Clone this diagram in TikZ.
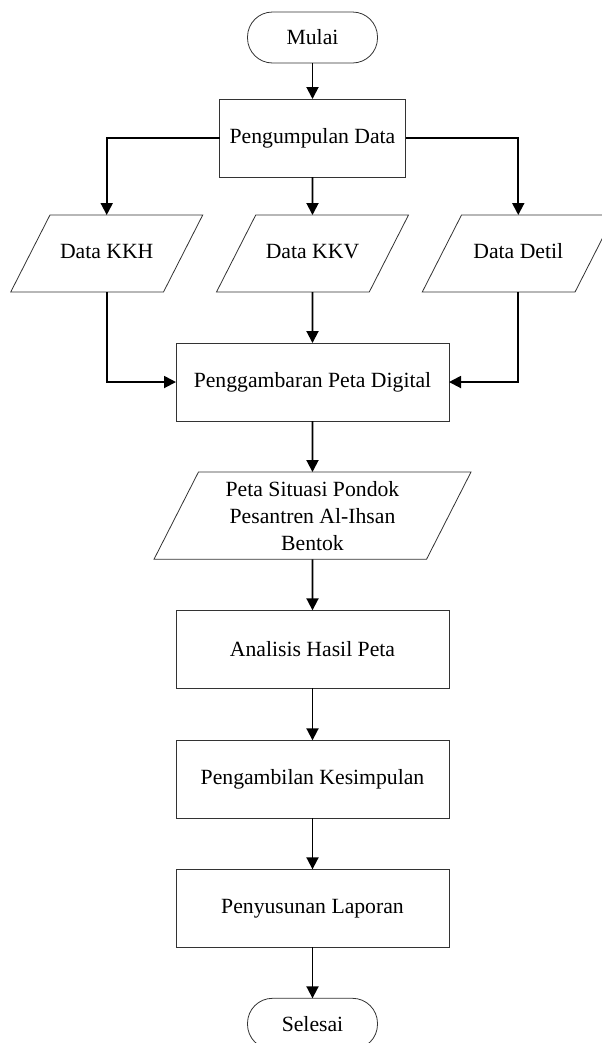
\documentclass[tikz,border=0pt]{standalone}
\usepackage{fontspec}
\setmainfont{Liberation Serif}
\usetikzlibrary{arrows.meta,positioning,shapes.geometric}

\begin{document}
\begin{tikzpicture}[x=1bp,y=1bp,node distance=51bp,
  every node/.style={align=center,font=\fontsize{21.7bp}{27bp}\selectfont,outer sep=0pt,inner sep=2bp},
  terminal/.style={draw=black!80,line width=0.8bp,rounded corners=25bp,minimum width=130bp,minimum height=51bp},
  process/.style={draw=black!80,line width=0.8bp,minimum width=273bp,minimum height=78bp},
  dataio/.style={draw=black!80,line width=0.8bp,trapezium,trapezium left angle=63,trapezium right angle=117,trapezium stretches body=true},
  datarow/.style={dataio,minimum width=192bp,text height=15bp,text depth=5bp,inner ysep=28.5bp},
  flow/.style={line width=1.9bp,-{Triangle[length=12bp,width=12bp]}}]
\useasboundingbox (0,0) rectangle (602,-1043);
\node[terminal] (mulai) at (312.5,-37.5) {Mulai};
\node[process,minimum width=186bp,below=36bp of mulai] (kumpul) {Pengumpulan Data};
\node[datarow,below=38bp of kumpul] (kkv) {Data KKV};
\node[datarow,left=53bp of kkv] (kkh) {Data KKH};
\node[datarow,right=53bp of kkv] (detil) {Data Detil};
\node[process,below=of kkv] (gambar) {Penggambaran Peta Digital};
\node[dataio,minimum width=317bp,inner ysep=9bp,below=of gambar] (peta) {Peta Situasi Pondok\\Pesantren Al-Ihsan\\Bentok};
\node[process,below=of peta] (analisis) {Analisis Hasil Peta};
\node[process,below=52bp of analisis] (simpul) {Pengambilan Kesimpulan};
\node[process,below=of simpul] (laporan) {Penyusunan Laporan};
\node[terminal,below=of laporan] (selesai) {Selesai};
\draw[flow] (mulai) -- (kumpul);
\draw[flow] (kumpul.west) -| (kkh.center |- kkh.north);
\draw[flow] (kumpul) -- (kkv.center |- kkv.north);
\draw[flow] (kumpul.east) -| (detil.center |- detil.north);
\draw[flow] (kkh.center |- kkh.south) |- (gambar.west);
\draw[flow] (kkv.center |- kkv.south) -- (gambar);
\draw[flow] (detil.center |- detil.south) |- (gambar.east);
\draw[flow] (gambar) -- (peta.center |- peta.north);
\draw[flow] (peta.center |- peta.south) -- (analisis);
\draw[flow] (analisis) -- (simpul);
\draw[flow] (simpul) -- (laporan);
\draw[flow] (laporan) -- (selesai);
\end{tikzpicture}
\end{document}
